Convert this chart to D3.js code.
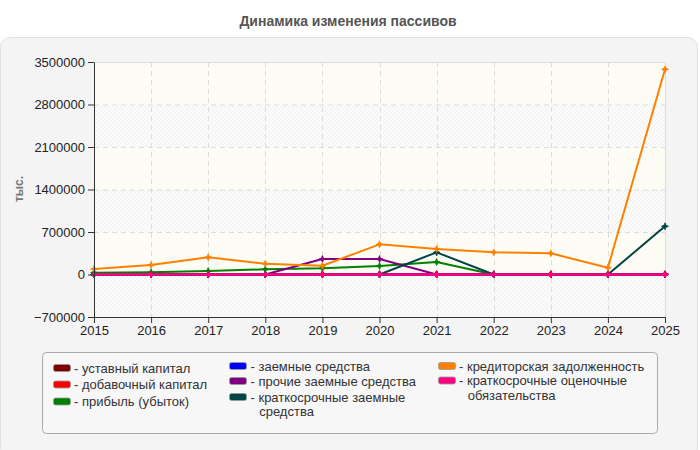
<!DOCTYPE html>
<html><head><meta charset="utf-8">
<script src="https://cdn.jsdelivr.net/npm/d3@7/dist/d3.min.js"></script>
<style>
html,body{margin:0;padding:0;background:#fff;}
svg{display:block;font-family:"Liberation Sans",Arial,sans-serif;}
</style></head>
<body>
<svg id="chart" width="700" height="450"></svg>
<script>
const years = [2015,2016,2017,2018,2019,2020,2021,2022,2023,2024,2025];
const yTicks = [-700000,0,700000,1400000,2100000,2800000,3500000];
const seriesNames = ["уставный капитал","добавочный капитал","прибыль (убыток)","заемные средства","прочие заемные средства","краткосрочные заемные средства","кредиторская задолженность","краткосрочные оценочные обязательства"];
const seriesColors = ["#800000","#ff0000","#008000","#0000ff","#800080","#004444","#ff8000","#ff0080"];
const ustavny   = [0,0,0,0,0,0,0,0,0,0,0];
const dobavochny= [0,0,0,0,10000,10000,10000,10000,10000,10000,10000];
const pribyl    = [30000,36000,58000,85000,102000,140000,206000,0,0,0,0];
const zaemnye   = [0,0,0,0,0,0,0,0,0,0,0];
const prochie   = [0,0,0,0,255000,255000,0,0,0,0,0];
const kratkZaem = [0,0,0,0,0,0,365000,0,0,0,794000];
const kredit    = [90000,156000,283000,178000,145000,497000,420000,365000,349000,112000,3380000];
const ocenoch   = [0,0,0,0,0,0,0,0,0,0,0];
const seriesValues = [ustavny,dobavochny,pribyl,zaemnye,prochie,kratkZaem,kredit,ocenoch];

const svg = d3.select("#chart");
const defs = svg.append("defs");
const pat = defs.append("pattern").attr("id","hatch").attr("patternUnits","userSpaceOnUse")
  .attr("width",4).attr("height",4);
pat.append("rect").attr("width",4).attr("height",4).attr("fill","#fbfbfb");
pat.append("path").attr("d","M-1,1 l2,-2 M0,4 l4,-4 M3,5 l2,-2").attr("stroke","#efefef").attr("stroke-width",1);

// title
svg.append("text").attr("x",348).attr("y",26).attr("text-anchor","middle")
  .attr("font-size",14).attr("font-weight","bold").attr("fill","#555")
  .text("Динамика изменения пассивов");

// panel
svg.append("rect").attr("x",0.5).attr("y",37.5).attr("width",697).attr("height",420)
  .attr("rx",10).attr("fill","#f4f4f4").attr("stroke","#e0e0e0");

const m = {left:94, right:665, top:62, bottom:317};
const x = d3.scaleLinear().domain([2015,2025]).range([m.left,m.right]);
const y = d3.scaleLinear().domain([-700000,3500000]).range([m.bottom,m.top]);

const g = svg.append("g");
g.append("rect").attr("x",m.left).attr("y",m.top).attr("width",m.right-m.left).attr("height",m.bottom-m.top)
  .attr("fill","url(#hatch)");
// alternating bands
for (let i=0;i<yTicks.length-1;i++){
  if (i%2===1){
    g.append("rect").attr("x",m.left).attr("width",m.right-m.left)
      .attr("y",y(yTicks[i+1])).attr("height",y(yTicks[i])-y(yTicks[i+1]))
      .attr("fill","#fdfdf4").attr("opacity",0.9);
  }
}
// grid
g.selectAll(".hg").data(yTicks.slice(1,-1)).enter().append("line")
  .attr("x1",m.left).attr("x2",m.right).attr("y1",d=>y(d)+0.5).attr("y2",d=>y(d)+0.5)
  .attr("stroke","#dcdcdc").attr("stroke-dasharray","5,4");
g.selectAll(".vg").data(years.slice(1,-1)).enter().append("line")
  .attr("y1",m.top).attr("y2",m.bottom).attr("x1",d=>Math.round(x(d))+0.5).attr("x2",d=>Math.round(x(d))+0.5)
  .attr("stroke","#dcdcdc").attr("stroke-dasharray","5,4");
// border top/right
g.append("path").attr("d",`M${m.left},${m.top+0.5}H${m.right+0.5}V${m.bottom}`)
  .attr("fill","none").attr("stroke","#dcdcdc");

// lines
const line = d3.line().x((d,i)=>x(years[i])).y(d=>y(d));
const star = "M0,-3.5L1,-1L3.5,0L1,1L0,3.5L-1,1L-3.5,0L-1,-1Z";
seriesValues.forEach((vals,si)=>{
  g.append("path").datum(vals).attr("d",line).attr("fill","none")
    .attr("stroke",seriesColors[si]).attr("stroke-width", si===7?2.5:2).attr("stroke-linejoin","round");
  g.selectAll(null).data(vals).enter().append("path")
    .attr("d",star).attr("transform",(d,i)=>`translate(${x(years[i])},${y(d)})`)
    .attr("fill",seriesColors[si]).attr("stroke",seriesColors[si]).attr("stroke-width",0.8);
});

// axes
const yAxis = svg.append("g").attr("transform",`translate(${m.left},0)`)
  .call(d3.axisLeft(y).tickValues(yTicks).tickFormat(d3.format("d")).tickSizeOuter(0));
const xAxis = svg.append("g").attr("transform",`translate(0,${m.bottom})`)
  .call(d3.axisBottom(x).tickValues(years).tickFormat(d3.format("d")).tickSizeOuter(0));
[yAxis,xAxis].forEach(a=>{
  a.selectAll("text").attr("font-size",13).attr("fill","#222").attr("font-family","'Liberation Sans',Arial,sans-serif");
  a.selectAll("line").attr("stroke","#333");
  a.select(".domain").attr("stroke","#333");
});

// y label
svg.append("text").attr("transform","translate(23,189) rotate(-90)").attr("text-anchor","middle")
  .attr("font-size",12).attr("font-weight","bold").attr("fill","#777").text("тыс.");

// legend
svg.append("rect").attr("x",42.5).attr("y",352.5).attr("width",615).attr("height",81)
  .attr("rx",4).attr("fill","#f7f7f7").attr("stroke","#aaa");
const legendPos = [
  {sx:53, tx:74, y:368},
  {sx:53, tx:74, y:384.5},
  {sx:53, tx:74, y:401.5},
  {sx:229, tx:250.5, y:366},
  {sx:229, tx:250.5, y:381},
  {sx:229, tx:250.5, y:397, wrap:["- краткосрочные заемные","средства"], off:8.7},
  {sx:438, tx:459, y:366},
  {sx:438, tx:459, y:380.5, wrap:["- краткосрочные оценочные","обязательства"], off:8.7}
];
seriesNames.forEach((n,i)=>{
  const p = legendPos[i];
  svg.append("rect").attr("x",p.sx+0.5).attr("y",p.y-3.5).attr("width",17).attr("height",7)
    .attr("rx",2).attr("fill",seriesColors[i]).attr("stroke","#999").attr("stroke-width",0.8);
  const t = svg.append("text").attr("x",p.tx).attr("y",p.y+4.5).attr("font-size",13).attr("fill","#333");
  if (p.wrap){
    t.text(p.wrap[0]);
    svg.append("text").attr("x",p.tx+p.off).attr("y",p.y+4.5+14.5).attr("font-size",13).attr("fill","#333").text(p.wrap[1]);
  } else t.text("- "+n);
});
</script>
</body></html>
